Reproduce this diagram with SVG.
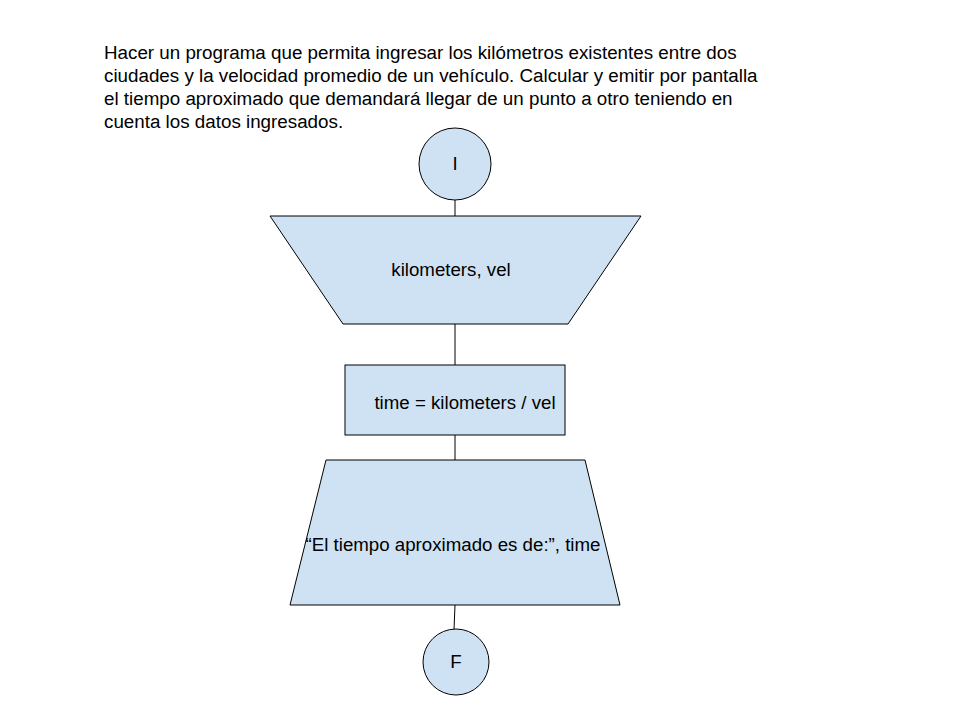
<svg xmlns="http://www.w3.org/2000/svg" width="960" height="720" viewBox="0 0 960 720">
<style>
.shape{fill:#cfe2f3;stroke:#000;stroke-width:1}
.lbl{font-family:"Liberation Sans",Arial,sans-serif;font-size:18.7px;fill:#000;text-anchor:middle}
.hdr{font-family:"Liberation Sans",Arial,sans-serif;font-size:18.8px;fill:#000}
.conn line{stroke:#000;stroke-width:1}
</style>
<rect width="960" height="720" fill="#fff"/>
<g id="header">
<text class="hdr" x="104" y="59">Hacer un programa que permita ingresar los kilómetros existentes entre dos</text>
<text class="hdr" x="104" y="82">ciudades y la velocidad promedio de un vehículo. Calcular y emitir por pantalla</text>
<text class="hdr" x="104" y="105">el tiempo aproximado que demandará llegar de un punto a otro teniendo en</text>
<text class="hdr" x="104" y="128">cuenta los datos ingresados.</text>
</g>
<g class="conn" id="connectors">
<line x1="455" y1="200" x2="455" y2="216"/>
<line x1="455" y1="324" x2="455" y2="365"/>
<line x1="455" y1="435" x2="455" y2="460"/>
<line x1="455" y1="605" x2="454" y2="630"/>
</g>
<g id="start">
<circle class="shape" cx="455" cy="164" r="36"/>
<text class="lbl" x="455" y="170">I</text>
</g>
<g id="input">
<polygon class="shape" points="270,216 641,216 568,324 343,324"/>
<text class="lbl" x="451" y="276">kilometers, vel</text>
</g>
<g id="process">
<rect class="shape" x="345" y="365" width="220" height="70"/>
<text class="lbl" x="465" y="409">time = kilometers / vel</text>
</g>
<g id="output">
<polygon class="shape" points="326,460 585,460 620,605 290,605"/>
<text class="lbl" x="453" y="551">“El tiempo aproximado es de:”, time</text>
</g>
<g id="end">
<circle class="shape" cx="456" cy="662" r="33"/>
<text class="lbl" x="456" y="668">F</text>
</g>
</svg>
